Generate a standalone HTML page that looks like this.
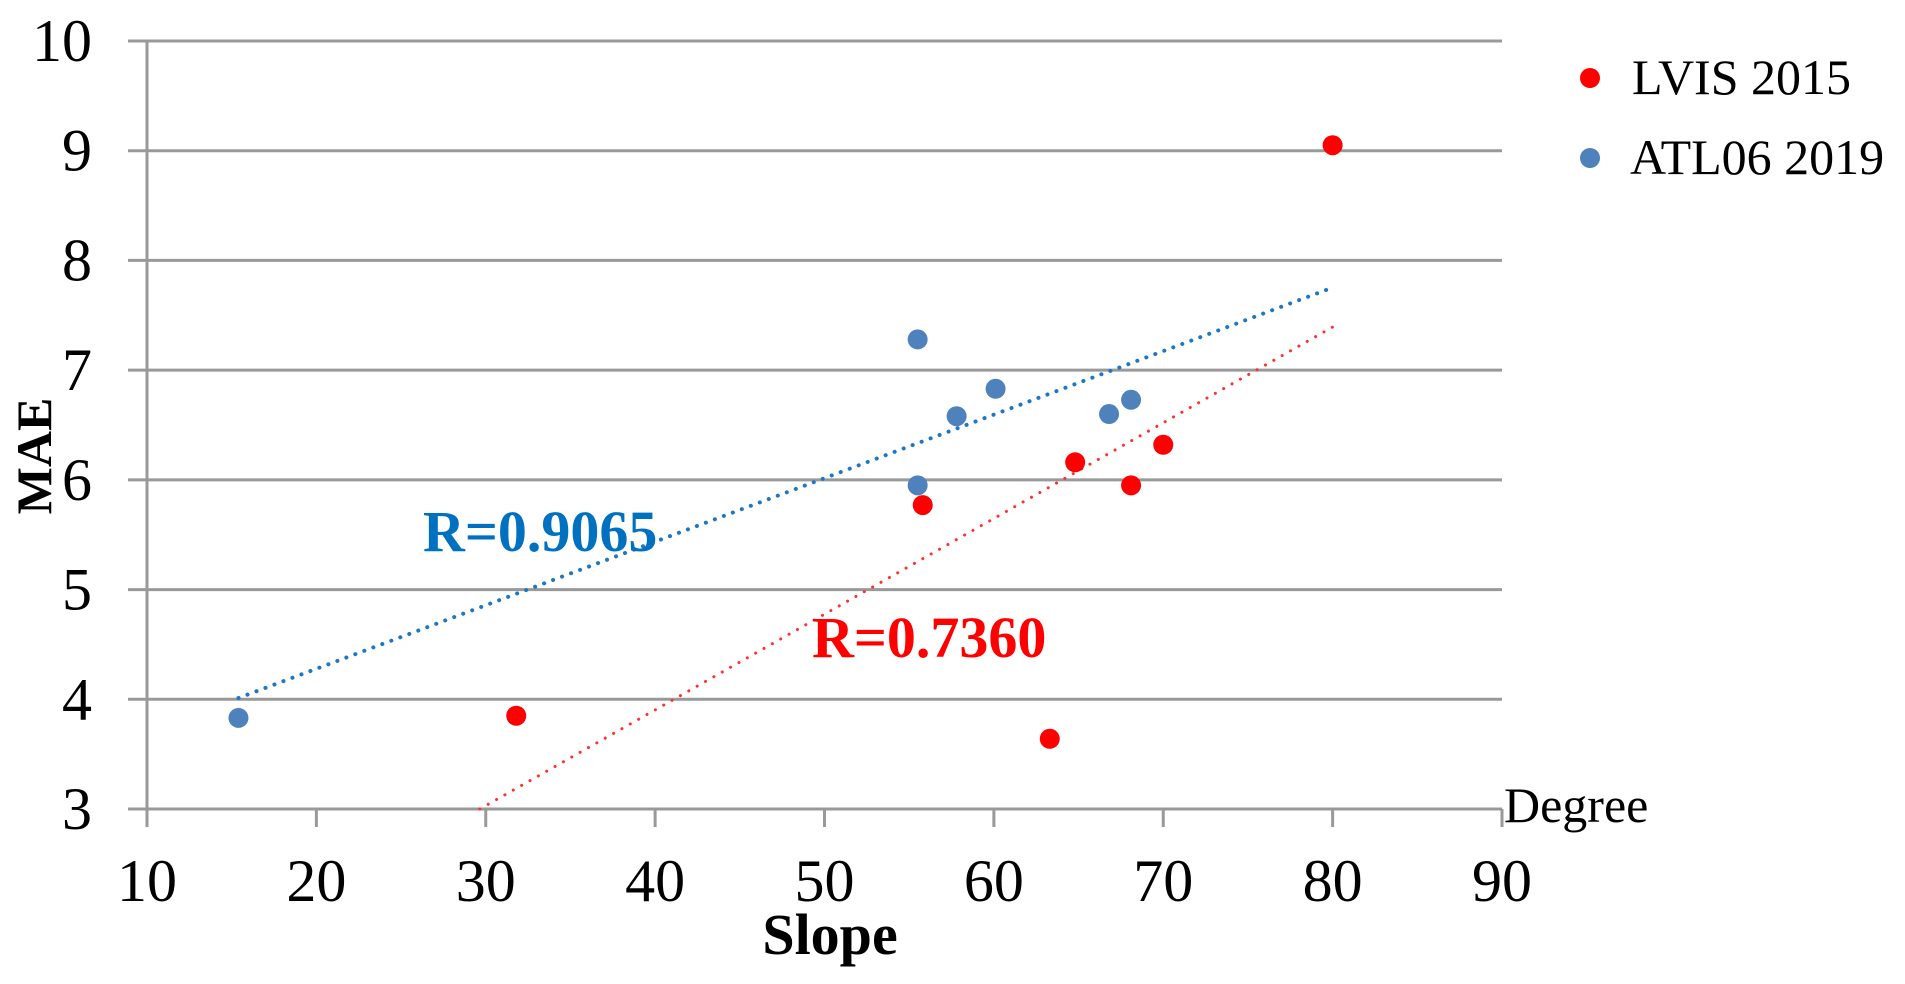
<!DOCTYPE html>
<html><head><meta charset="utf-8"><style>
html,body{margin:0;padding:0;background:#fff;}
svg{display:block;font-family:"Liberation Serif",serif;}
</style></head><body>
<svg id="chart" width="1905" height="984" viewBox="0 0 1905 984">
<g id="grid"></g>
<g id="ticks"></g>
<g id="trends"></g>
<g id="points"></g>
<text x="34" y="456" transform="rotate(-90 34 456)" text-anchor="middle" dominant-baseline="central" font-size="50" font-weight="bold">MAE</text>
<text x="830" y="954" text-anchor="middle" font-size="58" font-weight="bold">Slope</text>
<text x="1504" y="822" font-size="50">Degree</text>
<text x="423" y="551" font-size="58" font-weight="bold" fill="#0070C0">R=0.9065</text>
<text x="812" y="657" font-size="58" font-weight="bold" fill="#FF0000">R=0.7360</text>
<g>
<circle cx="1590" cy="78" r="10" fill="#FF0000"/>
<text x="1632" y="94" font-size="50">LVIS 2015</text>
<circle cx="1590" cy="158" r="10" fill="#4F81BD"/>
<text x="1630" y="174" font-size="50">ATL06 2019</text>
</g>
</svg>
<script>
const xTicks = [10,20,30,40,50,60,70,80,90];
const yTicks = [3,4,5,6,7,8,9,10];
const lvisX = [80.0,31.8,55.8,63.3,64.8,68.1,70.0];
const lvisY = [9.05,3.85,5.77,3.64,6.16,5.95,6.32];
const atlX = [15.4,55.5,55.5,57.8,60.1,66.8,68.1];
const atlY = [3.83,7.28,5.95,6.58,6.83,6.60,6.73];

const NS='http://www.w3.org/2000/svg';
const X0=147,X1=1502,Y0=809,Y1=41;
function sx(v){return X0+(v-10)/80*(X1-X0);}
function sy(v){return Y0-(v-3)/7*(Y0-Y1);}
function mk(tag,attrs,parent){const e=document.createElementNS(NS,tag);for(const k in attrs)e.setAttribute(k,attrs[k]);parent.appendChild(e);return e;}
const grid=document.getElementById('grid'),ticks=document.getElementById('ticks'),trends=document.getElementById('trends'),points=document.getElementById('points');
yTicks.forEach(v=>{
  const l=mk('line',{x1:128,x2:X1,y1:sy(v),y2:sy(v),stroke:'#999',"stroke-width":3},grid);
  
  
  const t=mk('text',{x:92,y:sy(v),"text-anchor":"end","dominant-baseline":"central","font-size":60},ticks);
  t.textContent=v;
  
  
});
const ax=mk('line',{x1:X0,x2:X0,y1:Y1,y2:827,stroke:'#999',"stroke-width":3},grid);


xTicks.forEach(v=>{
  const l=mk('line',{x1:sx(v),x2:sx(v),y1:Y0,y2:827,stroke:'#999',"stroke-width":3},grid);
  
  
  const t=mk('text',{x:sx(v),y:901,"text-anchor":"middle","font-size":60},ticks);
  t.textContent=v;
  
  
});
const allX=lvisX.concat(atlX);
function fit(xs,ys){const n=xs.length;const mx=xs.reduce((a,b)=>a+b)/n,my=ys.reduce((a,b)=>a+b)/n;let sxy=0,sxx=0;for(let i=0;i<n;i++){sxy+=(xs[i]-mx)*(ys[i]-my);sxx+=(xs[i]-mx)**2;}const m=sxy/sxx;return {m:m,b:my-m*mx};}
function trend(xs,ys,color,name,w){
  const f=fit(xs,ys);let xa=Math.min(...allX),xb=Math.max(...allX);
  if(f.m*xa+f.b<3)xa=(3-f.b)/f.m;
  const l=mk('line',{x1:sx(xa),y1:sy(f.m*xa+f.b),x2:sx(xb),y2:sy(f.m*xb+f.b),stroke:color,"stroke-width":w,"stroke-dasharray":"0.1 9.5","stroke-linecap":"round"},trends);
  
  
}
trend(atlX,atlY,'#1F77C4','trendline-atl06',4);
trend(lvisX,lvisY,'#FF3030','trendline-lvis',3);
atlX.forEach((x,i)=>{
  const c=mk('circle',{cx:sx(x),cy:sy(atlY[i]),r:10,fill:'#4F81BD'},points);
  
  
});
lvisX.forEach((x,i)=>{
  const c=mk('circle',{cx:sx(x),cy:sy(lvisY[i]),r:10,fill:'#FF0000'},points);
  
  
});
</script>
</body></html>
